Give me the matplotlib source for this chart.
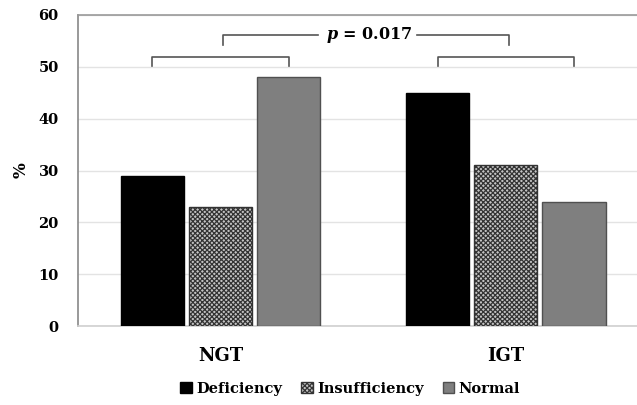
import numpy as np
import matplotlib.pyplot as plt

groups = ['NGT', 'IGT']
series = ['Deficiency', 'Insufficiency', 'Normal']
values = {
    'Deficiency': [29, 45],
    'Insufficiency': [23, 31],
    'Normal': [48, 24],
}
p_text = '0.017'

serif = ['DejaVu Serif']
plt.rcParams['font.family'] = serif
plt.rcParams['hatch.linewidth'] = 0.9
plt.rcParams['mathtext.fontset'] = 'custom'
plt.rcParams['mathtext.it'] = 'DejaVu Serif:italic:bold'

fig = plt.figure(figsize=(6.37, 4.05), dpi=100)
ax = fig.add_axes([0.1225, 0.195, 0.8775, 0.768])

x = np.arange(len(groups))
w = 0.222
offs = [-0.239, 0, 0.239]
styles = {
    'Deficiency': dict(color='black', edgecolor='black'),
    'Insufficiency': dict(color='#c4c4c4', edgecolor='#333333', hatch='xxxxxxx'),
    'Normal': dict(color='#7f7f7f', edgecolor='#505050'),
}
for s, o in zip(series, offs):
    ax.bar(x + o, values[s], w, label=s, linewidth=1.0, zorder=3, **styles[s])

ax.set_xlim(-0.5, 1.46)
ax.set_ylim(0, 60)
ax.set_yticks(range(0, 61, 10))
ax.yaxis.grid(True, color='#e3e3e3', linewidth=1.0, zorder=0)
ax.set_axisbelow(True)
ax.tick_params(length=0)
ax.tick_params(axis='y', pad=14)
for lab in ax.get_yticklabels():
    lab.set_fontweight('bold')
    lab.set_fontsize(10.5)
ax.set_xticks(x)
ax.set_xticklabels(groups, fontsize=13, fontweight='bold')
ax.tick_params(axis='x', pad=15)
ax.set_ylabel('%', fontsize=12, fontweight='bold', labelpad=6)

ax.spines['right'].set_visible(False)
ax.spines['top'].set_color('#999999')
ax.spines['top'].set_linewidth(1.2)
ax.spines['left'].set_color('#888888')
ax.spines['left'].set_linewidth(1.2)
ax.spines['bottom'].set_color('#d0d0d0')
ax.spines['bottom'].set_linewidth(1.2)

# brackets within each group
for g in x:
    x0, x1 = g + offs[0], g + offs[2]
    ax.plot([x0, x0, x1, x1], [50.2, 51.9, 51.9, 50.2], color='#555555', lw=1.2, zorder=4)

# bracket between groups
xl, xr = x[0] + 0.007, x[1] + 0.01
ym, yb = 56.2, 54.3
ax.plot([xl, xl, 0.34], [yb, ym, ym], color='#555555', lw=1.2)
ax.plot([0.69, xr, xr], [ym, ym, yb], color='#555555', lw=1.2)
ax.text(0.52, ym, '$p$ = ' + p_text, ha='center', va='center',
        fontsize=11.5, fontweight='bold')

leg = fig.legend(loc='lower center', bbox_to_anchor=(0.55, -0.01), ncol=3, frameon=False,
                 prop={'weight': 'bold', 'size': 10.5}, handlelength=0.8, handleheight=0.8,
                 handletextpad=0.3, columnspacing=1.3)

fig.savefig('out.png', dpi=100)
